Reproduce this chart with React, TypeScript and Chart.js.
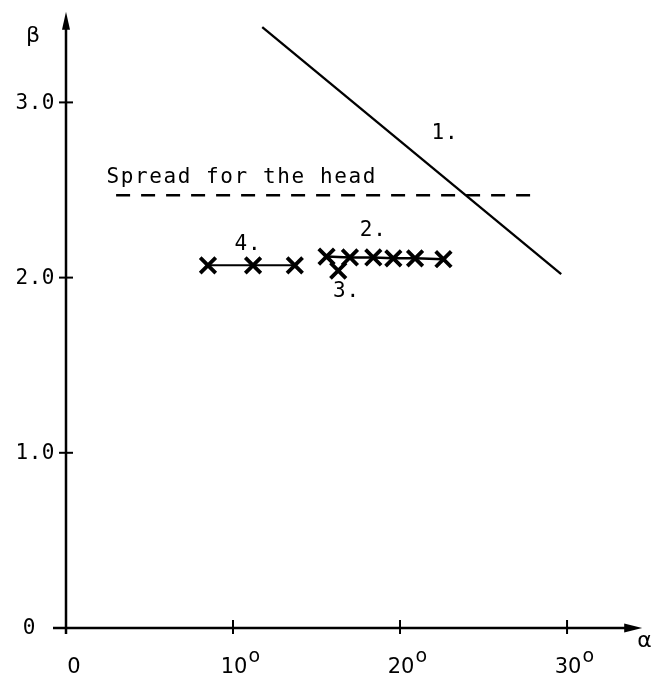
import React, { useEffect, useRef } from "react";
import { Chart, registerables } from "chart.js";

Chart.register(...registerables);

// ---- data ----
const xTicks = [0, 10, 20, 30];
const xTickLabels = ["0", "10", "20", "30"];
const xTickSuffix = ["", "o", "o", "o"];
const yTicks = [0, 1, 2, 3];
const yTickLabels = ["0", "1.0", "2.0", "3.0"];

const line1Alpha = [11.75, 29.65];
const line1Beta = [3.43, 2.02];
const spreadAlpha = [3.0, 28.0];
const spreadBeta = [2.47, 2.47];
const series2Alpha = [15.6, 17.0, 18.4, 19.6, 20.9, 22.6];
const series2Beta = [2.12, 2.115, 2.115, 2.11, 2.11, 2.105];
const series3Alpha = [16.3];
const series3Beta = [2.04];
const series4Alpha = [8.5, 11.2, 13.7];
const series4Beta = [2.07, 2.07, 2.07];

const noteTexts = ["1.", "2.", "3.", "4.", "Spread for the head"];
const noteAlpha = [22.7, 18.4, 16.8, 10.9, 2.42];
const noteBeta = [2.82, 2.27, 1.92, 2.19, 2.57];

const X_MAX = 34.5;
const Y_MAX = 3.5;

const toPts = (xs: number[], ys: number[]) => xs.map((x, i) => ({ x, y: ys[i] }));

const MONO = '"DejaVu Sans Mono", "Liberation Mono", monospace';
const SANS = '"DejaVu Sans", "Liberation Sans", sans-serif';

const axesPlugin = {
  id: "typewriterAxes",
  afterDraw(chart: any) {
    const ctx = chart.ctx as CanvasRenderingContext2D;
    const xs = chart.scales.x;
    const ys = chart.scales.y;
    const x0 = xs.getPixelForValue(0);
    const y0 = ys.getPixelForValue(0);
    const xEnd = xs.getPixelForValue(X_MAX);
    const yEnd = ys.getPixelForValue(Y_MAX);
    ctx.save();
    ctx.strokeStyle = "#000";
    ctx.fillStyle = "#000";
    ctx.lineWidth = 2.5;
    ctx.lineCap = "butt";
    // y axis
    ctx.beginPath();
    ctx.moveTo(x0, y0 + 6);
    ctx.lineTo(x0, yEnd + 10);
    ctx.stroke();
    // x axis
    ctx.beginPath();
    ctx.moveTo(x0 - 13, y0);
    ctx.lineTo(xEnd - 14, y0);
    ctx.stroke();
    // arrowheads
    ctx.beginPath();
    ctx.moveTo(x0, yEnd - 3);
    ctx.lineTo(x0 - 4, yEnd + 15);
    ctx.lineTo(x0 + 4, yEnd + 15);
    ctx.closePath();
    ctx.fill();
    ctx.beginPath();
    ctx.moveTo(xEnd, y0);
    ctx.lineTo(xEnd - 18, y0 - 4.5);
    ctx.lineTo(xEnd - 18, y0 + 4.5);
    ctx.closePath();
    ctx.fill();
    // ticks crossing axes
    ctx.lineWidth = 2;
    yTicks.forEach((v) => {
      const py = ys.getPixelForValue(v);
      if (v === 0) return;
      ctx.beginPath();
      ctx.moveTo(x0 - 7, py);
      ctx.lineTo(x0 + 7, py);
      ctx.stroke();
    });
    xTicks.forEach((v) => {
      const px = xs.getPixelForValue(v);
      if (v === 0) {
        ctx.beginPath();
        ctx.moveTo(px, y0);
        ctx.lineTo(px, y0 + 6);
        ctx.stroke();
        return;
      }
      ctx.beginPath();
      ctx.moveTo(px, y0 - 8);
      ctx.lineTo(px, y0 + 6);
      ctx.stroke();
    });
    // y tick labels
    ctx.font = `21px ${MONO}`;
    (ctx as any).letterSpacing = "0.5px";
    ctx.textAlign = "right";
    ctx.textBaseline = "middle";
    yTicks.forEach((v, i) => {
      const py = ys.getPixelForValue(v);
      const rx = v === 0 ? x0 - 30 : x0 - 11;
      ctx.fillText(yTickLabels[i], rx, py + 1);
    });
    (ctx as any).letterSpacing = "0px";
    // x tick labels
    xTicks.forEach((v, i) => {
      const px = xs.getPixelForValue(v) + (v === 0 ? 8 : 1);
      ctx.font = `21px ${SANS}`;
      ctx.textAlign = "center";
      ctx.textBaseline = "alphabetic";
      ctx.fillText(xTickLabels[i], px, y0 + 45);
      if (xTickSuffix[i]) {
        const w = ctx.measureText(xTickLabels[i]).width;
        ctx.font = `19px ${SANS}`;
        ctx.textAlign = "left";
        ctx.fillText(xTickSuffix[i], px + w / 2 + 1, y0 + 34);
      }
    });
    // axis titles
    ctx.font = `22px ${SANS}`;
    ctx.textAlign = "center";
    ctx.textBaseline = "middle";
    ctx.fillText("β", x0 - 33, yEnd + 21);
    ctx.textAlign = "left";
    ctx.fillText("α", xEnd - 5, y0 + 13);
    // notes
    ctx.font = `21px ${MONO}`;
    ctx.textBaseline = "middle";
    noteTexts.forEach((t, i) => {
      const px = xs.getPixelForValue(noteAlpha[i]);
      const py = ys.getPixelForValue(noteBeta[i]);
      if (t.length > 3) {
        (ctx as any).letterSpacing = "1.6px";
        ctx.textAlign = "left";
      } else {
        (ctx as any).letterSpacing = "1px";
        ctx.textAlign = "center";
      }
      ctx.fillText(t, px, py);
    });
    (ctx as any).letterSpacing = "0px";
    ctx.restore();
  },
};

export default function App() {
  const ref = useRef<HTMLCanvasElement | null>(null);
  useEffect(() => {
    document.body.style.margin = "0";
    const canvas = ref.current;
    if (!canvas) return;
    const crossStyle = {
      pointStyle: "crossRot" as const,
      pointRadius: 11,
      pointBorderWidth: 3.8,
      pointBorderColor: "#000",
      pointBackgroundColor: "#000",
      borderColor: "#000",
    };
    const chart = new Chart(canvas, {
      type: "scatter",
      data: {
        datasets: [
          {
            label: "1.",
            data: toPts(line1Alpha, line1Beta),
            showLine: true,
            borderColor: "#000",
            borderWidth: 2.3,
            pointRadius: 0,
          },
          {
            label: "Spread for the head",
            data: toPts(spreadAlpha, spreadBeta),
            showLine: true,
            borderColor: "#000",
            borderWidth: 2.5,
            borderDash: [14, 11],
            pointRadius: 0,
          },
          {
            label: "2.",
            data: toPts(series2Alpha, series2Beta),
            showLine: true,
            borderWidth: 2.5,
            ...crossStyle,
          },
          {
            label: "3.",
            data: toPts(series3Alpha, series3Beta),
            showLine: false,
            ...crossStyle,
          },
          {
            label: "4.",
            data: toPts(series4Alpha, series4Beta),
            showLine: true,
            borderWidth: 2,
            ...crossStyle,
          },
        ],
      },
      options: {
        responsive: false,
        animation: false,
        layout: { padding: { left: 66, right: 7, top: 11, bottom: 45 } },
        plugins: {
          legend: { display: false },
          tooltip: { enabled: false },
        },
        scales: {
          x: { type: "linear", min: 0, max: X_MAX, display: false },
          y: { type: "linear", min: 0, max: Y_MAX, display: false },
        },
      },
      plugins: [axesPlugin],
    });
    return () => chart.destroy();
  }, []);
  return (
    <div style={{ width: 657, height: 673, background: "#fff" }}>
      <canvas ref={ref} width={657} height={673} style={{ display: "block" }} />
    </div>
  );
}
